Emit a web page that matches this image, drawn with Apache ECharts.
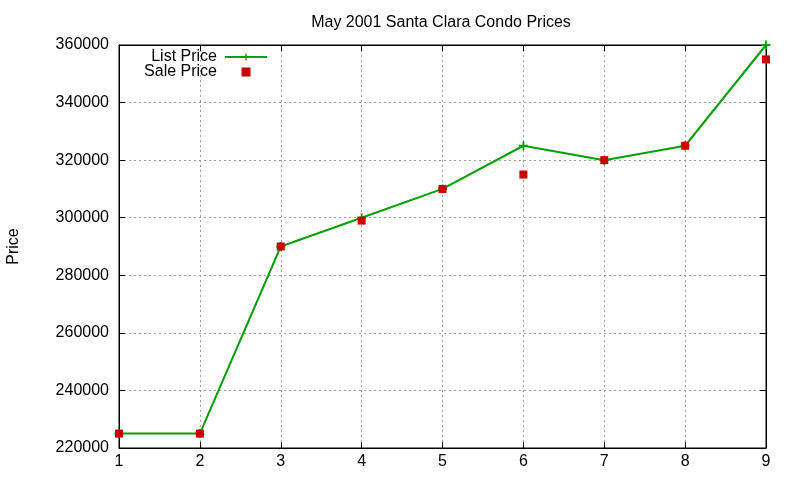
<!DOCTYPE html>
<html>
<head>
<meta charset="utf-8">
<script src="https://cdn.jsdelivr.net/npm/echarts@6/dist/echarts.min.js"></script>
<style>
html,body{margin:0;padding:0;background:#fff;}
#chart{width:800px;height:480px;}
</style>
</head>
<body>
<div id="chart"></div>
<script>
var xs = [1, 2, 3, 4, 5, 6, 7, 8, 9];
var listPrice = [225000, 225000, 290000, 300000, 310000, 325000, 320000, 325000, 360000];
var salePrice = [225000, 225000, 290000, 299000, 310000, 315000, 320000, 325000, 355000];

var pairs = function(a){
	var out = [];
	for (var i = 0; i < xs.length; i++) out.push([xs[i], a[i]]);
	return out;
};

var font = 'Liberation Sans, Arial, sans-serif';
var cross = 'path://M4,0h2v4h4v2h-4v4h-2v-4h-4v-2h4z';
var gridDots = {show: true, lineStyle: {color: '#a0a0a0', type: [2, 3], width: 1}};
var tick = {show: true, inside: true, length: 6, lineStyle: {color: '#000'}};

var myChart = echarts.init(document.getElementById('chart'));
myChart.setOption({
	animation: false,
	backgroundColor: '#fff',
	title: {
		text: 'May 2001 Santa Clara Condo Prices',
		left: 436, top: 10, textAlign: 'center',
		textStyle: {fontFamily: font, fontSize: 16, fontWeight: 'normal', color: '#000'}
	},
	legend: {
		orient: 'vertical',
		left: 138, top: 44,
		align: 'right',
		itemWidth: 42, itemHeight: 9, itemGap: -1,
		textStyle: {fontFamily: font, fontSize: 16, lineHeight: 14, color: '#000', width: 74, align: 'right', padding: [0, 3, 0, 0]},
		data: [
			{name: 'List Price'},
			{name: 'Sale Price', icon: 'path://M0,0h10v10h-10z'}
		]
	},
	grid: {left: 119, right: 34, top: 45, bottom: 32, containLabel: false, outerBoundsMode: 'none',
		show: true, borderColor: '#000', borderWidth: 1},
	xAxis: [{
		type: 'value', min: 1, max: 9, interval: 1,
		axisLine: {show: true, lineStyle: {color: '#000'}},
		axisTick: tick,
		splitLine: gridDots,
		axisLabel: {fontFamily: font, fontSize: 16, color: '#000', margin: 6}
	}, {
		type: 'value', position: 'top', min: 1, max: 9, interval: 1,
		axisLine: {show: true, lineStyle: {color: '#000'}},
		axisTick: tick, axisLabel: {show: false}, splitLine: {show: false}
	}],
	yAxis: [{
		type: 'value', min: 220000, max: 360000, interval: 20000,
		name: 'Price', nameLocation: 'middle', nameGap: 97, nameRotate: 90,
		nameTextStyle: {fontFamily: font, fontSize: 16, color: '#000'},
		axisLine: {show: true, lineStyle: {color: '#000'}},
		axisTick: tick,
		splitLine: gridDots,
		axisLabel: {fontFamily: font, fontSize: 16, color: '#000', margin: 10,
			formatter: function(v){ return String(v); }}
	}, {
		type: 'value', position: 'right', min: 220000, max: 360000, interval: 20000,
		axisLine: {show: true, lineStyle: {color: '#000'}},
		axisTick: tick, axisLabel: {show: false}, splitLine: {show: false}
	}],
	series: [{
		name: 'List Price',
		type: 'line',
		data: pairs(listPrice),
		symbol: cross,
		symbolSize: 9,
		showAllSymbol: true,
		lineStyle: {color: '#00a000', width: 2},
		itemStyle: {color: '#00a000'},
		z: 2
	}, {
		name: 'Sale Price',
		type: 'scatter',
		data: pairs(salePrice),
		symbol: 'rect',
		symbolSize: 8,
		itemStyle: {color: '#cc0000', opacity: 1},
		z: 3
	}]
});
</script>
</body>
</html>
